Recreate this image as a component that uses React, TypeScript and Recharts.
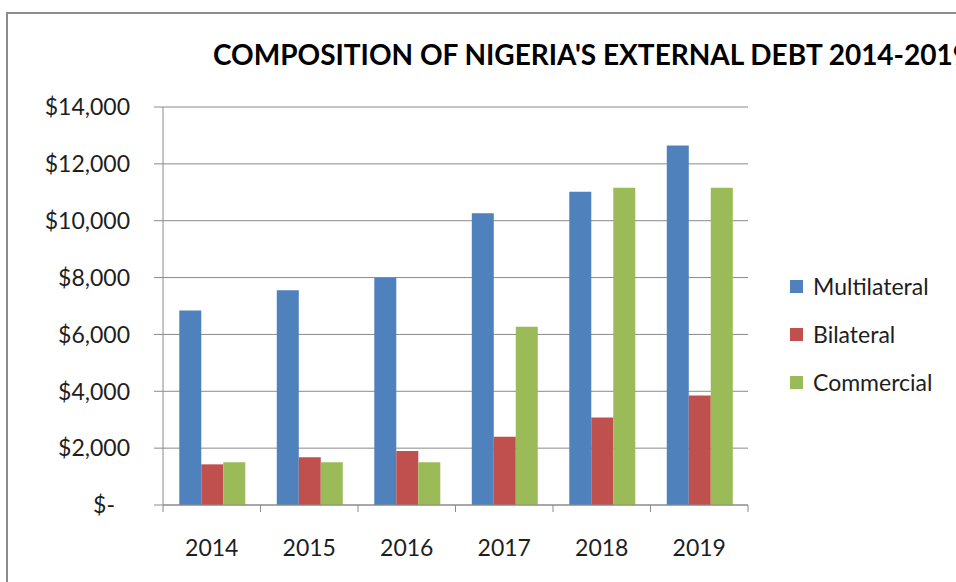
import React from "react";
import { BarChart, Bar, XAxis, YAxis, CartesianGrid, Legend } from "recharts";

const years = ["2014", "2015", "2016", "2017", "2018", "2019"];
const multilateral = [6840, 7550, 7990, 10260, 11020, 12650];
const bilateral = [1430, 1680, 1900, 2400, 3080, 3850];
const commercial = [1500, 1500, 1500, 6270, 11160, 11160];
const yTicks = [0, 2000, 4000, 6000, 8000, 10000, 12000, 14000];
const seriesOrder = ["Multilateral", "Bilateral", "Commercial"];

const data = years.map((y, i) => ({
  year: y,
  Multilateral: multilateral[i],
  Bilateral: bilateral[i],
  Commercial: commercial[i],
}));

const FONT = "Lato, 'Open Sans', sans-serif";
const AXIS = "#8a8a8a";
const TEXT = "#1e1e1e";

const YTick = (props: any) => {
  const { x, y, payload } = props;
  const v = payload.value as number;
  const label = v === 0 ? "$-" : "$" + v.toLocaleString("en-US");
  return (
    <text x={v === 0 ? x - 15 : x} y={y} dy="0.36em" textAnchor="end" fill={TEXT} fontSize={23} fontFamily={FONT}>
      {label}
    </text>
  );
};

const XTick = (props: any) => {
  const { x, y, payload, width, visibleTicksCount, index } = props;
  const band = Number(width) / Number(visibleTicksCount || years.length);
  const left = x - band / 2;
  const right = x + band / 2;
  return (
    <g>
      <line x1={left} x2={left} y1={y} y2={y + 7} stroke={AXIS} strokeWidth={1} />
      {index === (visibleTicksCount || years.length) - 1 && (
        <line x1={right} x2={right} y1={y} y2={y + 7} stroke={AXIS} strokeWidth={1} />
      )}
      <text x={x} y={y + 43} dy="0.36em" textAnchor="middle" fill={TEXT} fontSize={23} fontFamily={FONT}>
        {payload.value}
      </text>
    </g>
  );
};

const LegendContent = (props: any) => {
  const payload = [...(props.payload || [])].sort(
    (a: any, b: any) => seriesOrder.indexOf(a.value) - seriesOrder.indexOf(b.value)
  );
  return (
    <div style={{ fontFamily: FONT, fontSize: 23, color: TEXT }}>
      {payload.map((p: any) => (
        <div key={p.value} style={{ display: "flex", alignItems: "center", height: 48 }}>
          <span style={{ width: 13, height: 13, background: p.color, marginRight: 10, display: "inline-block" }} />
          <span>{p.value}</span>
        </div>
      ))}
    </div>
  );
};

export default function App() {
  return (
    <div style={{ position: "absolute", left: 0, top: 0, width: 956, height: 582, overflow: "hidden", background: "#fff" }}>
      <svg width={956} height={582} style={{ position: "absolute", left: 0, top: 0 }}>
        <rect x={7} y={13} width={1200} height={800} fill="none" stroke="#8c8c8c" strokeWidth={2} />
        <text x={213} y={65} fontFamily={FONT} fontWeight={700} fontSize={28} fill="#000">
          COMPOSITION OF NIGERIA'S EXTERNAL DEBT 2014-2019
        </text>
      </svg>
      <div style={{ position: "absolute", left: 0, top: 0 }}>
        <BarChart
          width={956}
          height={582}
          data={data}
          margin={{ top: 107, right: 208, bottom: 0, left: 0 }}
          barCategoryGap="16.7%"
          barGap={0}
        >
          <CartesianGrid vertical={false} stroke={AXIS} strokeWidth={1} />
          <XAxis
            dataKey="year"
            interval={0}
            tickLine={false}
            tickSize={0}
            tickMargin={0}
            axisLine={{ stroke: AXIS }}
            tick={<XTick />}
            height={77}
          />
          <YAxis
            domain={[0, 14000]}
            ticks={yTicks}
            interval={0}
            width={163}
            tickSize={9}
            tickMargin={24}
            tickLine={{ stroke: AXIS }}
            axisLine={{ stroke: AXIS }}
            tick={<YTick />}
          />
          <Legend
            layout="vertical"
            align="center"
            verticalAlign="middle"
            wrapperStyle={{ position: "absolute", left: 790, top: 262, width: 166 }}
            content={<LegendContent />}
          />
          <Bar dataKey="Multilateral" fill="#4F81BD" isAnimationActive={false} />
          <Bar dataKey="Bilateral" fill="#C0504D" isAnimationActive={false} />
          <Bar dataKey="Commercial" fill="#9BBB59" isAnimationActive={false} />
        </BarChart>
      </div>
    </div>
  );
}
